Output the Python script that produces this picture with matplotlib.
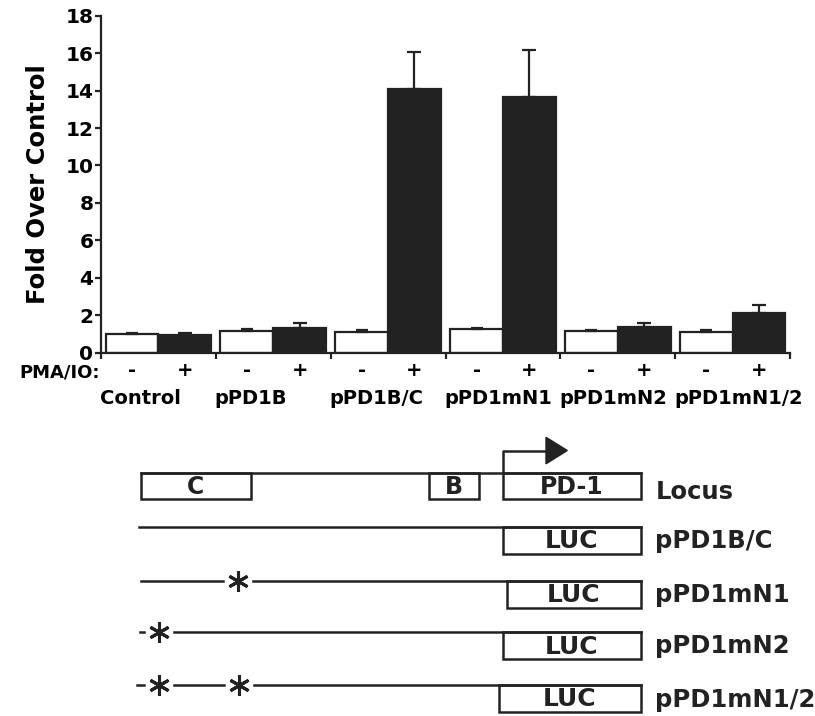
import matplotlib.pyplot as plt
from matplotlib.patches import Rectangle, Polygon

plt.rcParams["font.family"] = ["DejaVu Sans"]
plt.rcParams["font.weight"] = "bold"

# bar chart data (fold over control)
groups = ["Control", "pPD1B", "pPD1B/C", "pPD1mN1", "pPD1mN2", "pPD1mN1/2"]
unstim = [1.02, 1.18, 1.10, 1.24, 1.17, 1.12]
unstim_err = [0.04, 0.06, 0.10, 0.06, 0.05, 0.08]
stim = [0.95, 1.30, 14.08, 13.64, 1.36, 2.10]
stim_err = [0.10, 0.27, 1.98, 2.55, 0.25, 0.45]

# promoter constructs drawn below the chart
constructs = ["pPD1B/C", "pPD1mN1", "pPD1mN2", "pPD1mN1/2"]
construct_starts = [139, 141, 140, 137]
mutations = [[], [238], [159], [159, 239]]
luc_left = [503, 507, 503, 499]

fig = plt.figure(figsize=(8.15, 7.16), dpi=100)

# ---- bar chart ----
ax = fig.add_axes([101 / 815, 1 - 352.7 / 716, 689 / 815, 337 / 716])
xs = list(range(len(groups)))
w = 0.46
ax.bar([x + 0.27 for x in xs], unstim, width=w, color="white",
       edgecolor="#222222", linewidth=1.6, zorder=2)
ax.bar([x + 0.73 for x in xs], stim, width=w, color="#222222",
       edgecolor="#222222", linewidth=1.6, zorder=2)
ax.errorbar([x + 0.27 for x in xs], unstim, yerr=[[0] * 6, unstim_err],
            fmt="none", ecolor="#222222", elinewidth=1.6, capsize=4,
            capthick=1.6, zorder=3)
ax.errorbar([x + 0.73 for x in xs], stim, yerr=[[0] * 6, stim_err],
            fmt="none", ecolor="#222222", elinewidth=1.6, capsize=5,
            capthick=1.6, zorder=3)

ax.set_xlim(0, 6)
ax.set_ylim(0, 18)
ax.set_yticks(range(0, 19, 2))
ax.set_xticks(range(0, 7))
ax.set_xticklabels([])
for s in ["top", "right"]:
    ax.spines[s].set_visible(False)
for s in ["left", "bottom"]:
    ax.spines[s].set_linewidth(1.6)
    ax.spines[s].set_color("#222222")
ax.tick_params(axis="both", direction="out", length=4.5, width=1.6,
               color="#222222")
ax.tick_params(axis="y", labelsize=14.5, pad=1)
for lab in ax.get_yticklabels():
    lab.set_fontweight("bold")
ax.set_ylabel("Fold Over Control", fontsize=17.5, fontweight="bold",
              labelpad=11)

tr = ax.get_xaxis_transform()
ax.text(-0.01, -0.06, "PMA/IO:", transform=tr, ha="right", va="center",
        fontsize=13, fontweight="bold")
for x in xs:
    ax.text(x + 0.27, -0.052, "-", transform=tr, ha="center", va="center",
            fontsize=14, fontweight="bold")
    ax.text(x + 0.73, -0.052, "+", transform=tr, ha="center", va="center",
            fontsize=14, fontweight="bold")
    ax.text(x - 0.01, -0.137, groups[x], transform=tr, ha="left",
            va="center", fontsize=14, fontweight="bold")

# ---- construct diagram (pixel coordinates) ----
dg = fig.add_axes([0, 0, 1, 1])
dg.set_xlim(0, 815)
dg.set_ylim(716, 0)
dg.axis("off")
dg.patch.set_visible(False)

lw = 1.8
col = "#222222"
right = 640.5

# locus
ly = 472.7
dg.plot([140.7, right], [ly, ly], color=col, lw=lw)
for x0, x1, name, fs in [(140.7, 250.7, "C", 17), (429.3, 479.3, "B", 17),
                         (502.7, right, "PD-1", 17)]:
    dg.add_patch(Rectangle((x0, ly), x1 - x0, 25.8, fill=False,
                           edgecolor=col, lw=lw))
    dg.text((x0 + x1) / 2, ly + 14, name, ha="center", va="center",
            fontsize=fs, fontweight="bold", color=col)
dg.plot([502.7, 502.7, 547], [ly, 450.7, 450.7], color=col, lw=lw)
dg.add_patch(Polygon([(546, 437.3), (546, 463.8), (567.3, 450.5)],
                     closed=True, color=col))
dg.text(656, 491.7, "Locus", ha="left", va="center", fontsize=17.5,
        fontweight="bold", color=col)

row_y = [526.7, 580.7, 632.0, 685.0]
gap = 15
for i, name in enumerate(constructs):
    y = row_y[i]
    x_start = construct_starts[i]
    for m in mutations[i]:
        dg.plot([x_start, m - gap], [y, y], color=col, lw=lw)
        dg.plot([m], [y], marker=(6, 2, 0), markersize=15, color=col,
                markeredgewidth=2.2)
        x_start = m + gap
    dg.plot([x_start, right], [y, y], color=col, lw=lw)
    dg.add_patch(Rectangle((luc_left[i], y), right - luc_left[i], 27,
                           fill=False, edgecolor=col, lw=lw))
    dg.text((luc_left[i] + right) / 2, y + 14.5, "LUC", ha="center",
            va="center", fontsize=18, fontweight="bold", color=col)
    dg.text(655, y + 14.5, name, ha="left", va="center", fontsize=17.5,
            fontweight="bold", color=col)

fig.savefig("out.png", dpi=100)
